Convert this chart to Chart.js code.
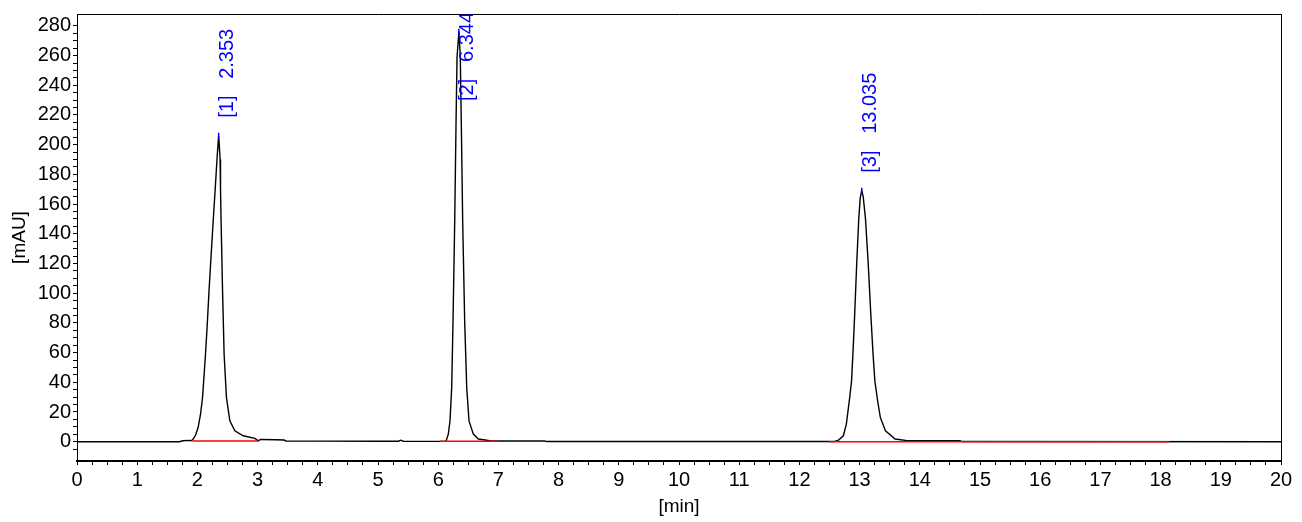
<!DOCTYPE html>
<html>
<head>
<meta charset="utf-8">
<title>Chromatogram</title>
<script src="https://cdn.jsdelivr.net/npm/chart.js@4.4.1/dist/chart.umd.min.js"></script>
<style>
  html, body { margin: 0; padding: 0; background: #fff; }
  #chart { display: block; }
</style>
</head>
<body>
<canvas id="chart" width="1302" height="522"></canvas>
<script>
// signal trace (time in min, signal in mAU)
const traceTime = [
  0, 1.70, 1.76, 1.86, 1.90, 1.93, 1.97, 2.012, 2.05, 2.085, 2.134, 2.165, 2.195, 2.23, 2.261,
  2.30, 2.33, 2.353, 2.366, 2.377, 2.384, 2.394, 2.417, 2.444, 2.483, 2.539, 2.622, 2.76, 2.954,
  2.99, 3.01, 3.05, 3.30, 3.44, 3.47, 4.0, 5.0, 5.34, 5.38, 5.42, 6.0, 6.13, 6.168, 6.196, 6.224,
  6.246, 6.274, 6.296, 6.313, 6.344, 6.367, 6.384, 6.407, 6.44, 6.474, 6.512, 6.584, 6.667, 6.78,
  6.85, 7.0, 7.77, 7.80, 12.57, 12.65, 12.73, 12.78, 12.835, 12.866, 12.89, 12.917, 12.952, 12.986,
  13.01, 13.035, 13.06, 13.098, 13.143, 13.188, 13.222, 13.254, 13.30, 13.345, 13.43, 13.59, 13.79,
  14.0, 14.67, 14.70, 20
];
const traceMAU = [
  0, 0, 0.6, 0.9, 0.6, 1.8, 4.5, 9.5, 18, 29.6, 58.5, 80, 103, 127, 147.6,
  173, 193, 206, 198, 190, 169.8, 147.6, 103, 58.5, 29.6, 14, 7.3, 4, 2.2,
  1.2, 0.5, 1.5, 1.3, 1.1, 0.5, 0.4, 0.3, 0.3, 1.0, 0.3, 0.2, 0.3, 5.1, 14, 36.3,
  80.8, 147.6, 214, 259, 276, 259, 214, 147.6, 80.8, 36.3, 14, 5.1, 1.8, 1.1,
  0.6, 0.5, 0.5, 0.1, 0.1, 1.1, 4, 11.8, 29.6, 40.7, 60, 84.5, 120, 150,
  164, 169, 165, 150, 120, 84.5, 60, 40.7, 27.4, 16.2, 7.3, 1.8, 0.7,
  0.6, 0.6, 0.1, 0
];

// peaks
const peakNames = ['[1]', '[2]', '[3]'];
const peakTimes = [2.353, 6.344, 13.035];
const peakHeights = [206, 276, 169];

// integration baselines (start/end time and level)
const baseStart = [1.918, 6.03, 12.49];
const baseEnd = [3.01, 6.99, 18.14];
const baseLevel = [0.5, 0.3, 0];

const xMin = 0, xMax = 20;
const yMin = -13, yMax = 288;

const fontFamily = "'Liberation Sans', Arial, sans-serif";

const traceData = traceTime.map((t, i) => ({ x: t, y: traceMAU[i] }));
const apexData = peakTimes.map((t, i) => ({ x: t, y: peakHeights[i] }));

const baseSets = baseStart.map((s, i) => ({
    type: 'line',
    data: [{ x: s, y: baseLevel[i] }, { x: baseEnd[i], y: baseLevel[i] }],
    borderColor: '#ff0000',
    borderWidth: 1.6,
    pointRadius: 0,
    order: 0
}));

// peak labels, rotated, above each apex
const peakLabels = {
    id: 'peakLabels',
    afterDatasetsDraw(chart) {
        const ctx = chart.ctx;
        const xs = chart.scales.x;
        const ys = chart.scales.y;
        const area = chart.chartArea;
        ctx.save();
        ctx.beginPath();
        ctx.rect(area.left, area.top, area.right - area.left, area.bottom - area.top);
        ctx.clip();
        ctx.font = '20px ' + fontFamily;
        ctx.fillStyle = '#0000ff';
        ctx.textAlign = 'left';
        ctx.textBaseline = 'top';
        peakTimes.forEach((t, i) => {
            const txt = peakNames[i] + '   ' + t.toFixed(3);
            const w = ctx.measureText(txt).width;
            const px = xs.getPixelForValue(t) - 1;
            let py = ys.getPixelForValue(peakHeights[i]) - 18;
            if (py - w < area.top - 2) {
                py = area.top - 2 + w;
            }
            ctx.save();
            ctx.translate(px, py);
            ctx.rotate(-Math.PI / 2);
            ctx.fillText(txt, 0, 0);
            ctx.restore();
        });
        ctx.restore();
    }
};

const ctx1 = document.getElementById('chart');
const chart1 = new Chart(ctx1, {
    type: 'line',
    data: {
        datasets: [
            {
                label: 'signal',
                data: traceData,
                borderColor: '#000000',
                borderWidth: 1.4,
                pointRadius: 0,
                tension: 0,
                order: 2
            },
            {
                type: 'scatter',
                label: 'apex',
                data: apexData,
                pointStyle: 'line',
                rotation: 90,
                pointRadius: 3,
                borderColor: '#0000ff',
                borderWidth: 1.5,
                showLine: false,
                order: 1
            },
            ...baseSets
        ]
    },
    options: {
        responsive: false,
        devicePixelRatio: 1,
        animation: false,
        events: [],
        layout: { padding: { top: 9, right: 21, left: 0, bottom: 0 } },
        plugins: {
            legend: { display: false },
            tooltip: { enabled: false }
        },
        scales: {
            x: {
                type: 'linear',
                position: 'bottom',
                min: xMin,
                max: xMax,
                afterFit(scale) { scale.height = 61; },
                afterBuildTicks(scale) {
                    scale.ticks = scale.ticks.filter(t => Math.abs(t.value * 4 - Math.round(t.value * 4)) < 1e-6);
                },
                ticks: {
                    stepSize: 0.25,
                    autoSkip: false,
                    maxRotation: 0,
                    padding: 3,
                    color: '#000',
                    font: { family: fontFamily, size: 20 },
                    callback: v => (Math.abs(v - Math.round(v)) < 1e-6 ? String(Math.round(v)) : '')
                },
                grid: {
                    drawOnChartArea: false,
                    drawTicks: true,
                    tickLength: 4,
                    tickColor: '#000',
                    tickWidth: 1
                },
                border: { display: true, color: '#000', width: 2 },
                title: {
                    display: true,
                    text: '[min]',
                    color: '#000',
                    font: { family: fontFamily, size: 19 },
                    padding: { top: 0, bottom: 4 }
                }
            },
            y: {
                type: 'linear',
                position: 'left',
                min: yMin,
                max: yMax,
                afterFit(scale) { scale.width = 77; },
                afterBuildTicks(scale) {
                    scale.ticks = scale.ticks.filter(t => t.value % 5 === 0);
                },
                ticks: {
                    stepSize: 5,
                    autoSkip: false,
                    padding: 2,
                    color: '#000',
                    font: { family: fontFamily, size: 20 },
                    callback: v => (v % 20 === 0 ? String(v) : '')
                },
                grid: {
                    drawOnChartArea: false,
                    drawTicks: true,
                    tickLength: 4,
                    tickColor: '#000',
                    tickWidth: 1
                },
                border: { display: true, color: '#000', width: 1 },
                title: {
                    display: true,
                    text: '[mAU]',
                    color: '#000',
                    font: { family: fontFamily, size: 19 },
                    padding: { top: 8, bottom: 0 }
                }
            },
            xTop: {
                type: 'linear',
                position: 'top',
                min: xMin,
                max: xMax,
                afterFit(scale) { scale.height = 0; },
                ticks: { display: false },
                grid: { display: false },
                border: { display: true, color: '#000', width: 1 }
            },
            yRight: {
                type: 'linear',
                position: 'right',
                min: yMin,
                max: yMax,
                afterFit(scale) { scale.width = 0; },
                ticks: { display: false },
                grid: { display: false },
                border: { display: true, color: '#000', width: 1 }
            }
        }
    },
    plugins: [peakLabels]
});
</script>
</body>
</html>
